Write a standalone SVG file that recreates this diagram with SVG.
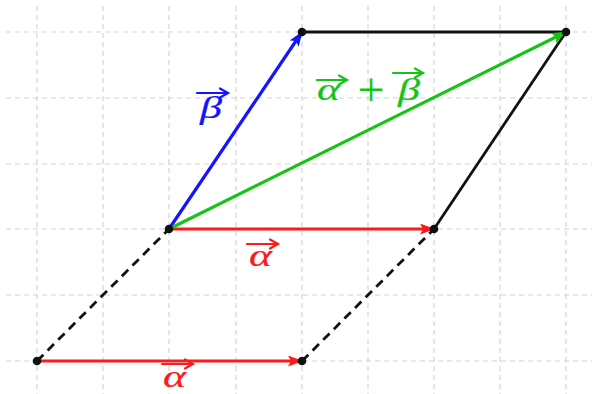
<svg xmlns="http://www.w3.org/2000/svg" width="592" height="394" viewBox="0 0 592 394">
<style>
.grid line{stroke:#d4d4d4;stroke-width:1.2;stroke-dasharray:5 4}
.v{fill:none;stroke-width:3.2}
.red{stroke:#ff1a1a}
.blue{stroke:#1414ff}
.green{stroke:#16c416}
.blk{stroke:#111;stroke-width:2.8;fill:none}
.dash{stroke-dasharray:9 6}
.dot{fill:#111}
.lbl{font-family:"Liberation Serif","DejaVu Serif",serif;font-style:italic;font-size:31px;stroke-width:0.2}
.plus{font-family:"Liberation Serif","DejaVu Serif",serif;font-size:48px}
.ov{fill:none;stroke-width:2.2;stroke-linecap:round}
</style>
<defs>
<marker id="ar-red" viewBox="0 0 15 11" refX="14" refY="5.5" markerWidth="15" markerHeight="11" markerUnits="userSpaceOnUse" orient="auto">
<path d="M0,0 L15,5.5 L0,11 L3,5.5 Z" fill="#ff1a1a"/>
</marker>
<marker id="ar-blue" viewBox="0 0 15 11" refX="14" refY="5.5" markerWidth="15" markerHeight="11" markerUnits="userSpaceOnUse" orient="auto">
<path d="M0,0 L15,5.5 L0,11 L3,5.5 Z" fill="#1414ff"/>
</marker>
<marker id="ar-green" viewBox="0 0 15 11" refX="14" refY="5.5" markerWidth="15" markerHeight="11" markerUnits="userSpaceOnUse" orient="auto">
<path d="M0,0 L15,5.5 L0,11 L3,5.5 Z" fill="#16c416"/>
</marker>
</defs>
<rect width="592" height="394" fill="#fff"/>
<g class="grid">
<line x1="37" y1="6" x2="37" y2="394"/><line x1="103" y1="6" x2="103" y2="394"/><line x1="169" y1="6" x2="169" y2="394"/><line x1="236" y1="6" x2="236" y2="394"/><line x1="302" y1="6" x2="302" y2="394"/><line x1="368" y1="6" x2="368" y2="394"/><line x1="434" y1="6" x2="434" y2="394"/><line x1="500" y1="6" x2="500" y2="394"/><line x1="566" y1="6" x2="566" y2="394"/>
<line x1="6" y1="32" x2="592" y2="32"/><line x1="6" y1="98" x2="592" y2="98"/><line x1="6" y1="164" x2="592" y2="164"/><line x1="6" y1="229" x2="592" y2="229"/><line x1="6" y1="295" x2="592" y2="295"/><line x1="6" y1="361" x2="592" y2="361"/>
</g>
<g id="connectors">
<line class="blk dash" x1="37" y1="361" x2="169" y2="229"/>
<line class="blk dash" x1="302" y1="361" x2="434" y2="229"/>
<line class="blk" x1="302" y1="32" x2="566" y2="32"/>
<line class="blk" x1="434" y1="229" x2="566" y2="32"/>
<line class="v red" x1="37" y1="361" x2="302" y2="361" marker-end="url(#ar-red)"/>
<line class="v red" x1="169" y1="229" x2="434" y2="229" marker-end="url(#ar-red)"/>
<line class="v blue" x1="169" y1="229" x2="302" y2="32" marker-end="url(#ar-blue)"/>
<line class="v green" x1="169" y1="229" x2="566" y2="32" marker-end="url(#ar-green)"/>
</g>
<g id="p-origin"><circle class="dot" cx="37" cy="361" r="4.3"/></g>
<g id="p-alpha-end"><circle class="dot" cx="302" cy="361" r="4.3"/></g>
<g id="p-start"><circle class="dot" cx="169" cy="229" r="4.3"/></g>
<g id="p-alpha2-end"><circle class="dot" cx="434" cy="229" r="4.3"/></g>
<g id="p-beta-end"><circle class="dot" cx="302" cy="32" r="4.3"/></g>
<g id="p-sum-end"><circle class="dot" cx="566" cy="32" r="4.3"/></g>
<g id="label-beta" fill="#1414ff" stroke="#1414ff">
<text class="lbl" x="200" y="118" textLength="22" lengthAdjust="spacingAndGlyphs">β</text>
<path class="ov" d="M197,93 H227 M220,88.5 L228,93 L220,97.5"/>
</g>
<g id="label-sum" fill="#16c416" stroke="#16c416">
<text class="lbl" x="317" y="100" textLength="23" lengthAdjust="spacingAndGlyphs">α</text>
<path class="ov" d="M317,80 H346 M339,75.5 L347,80 L339,84.5"/>
<text class="plus" x="371" y="106" text-anchor="middle" stroke="none">+</text>
<text class="lbl" x="398" y="100" textLength="22" lengthAdjust="spacingAndGlyphs">β</text>
<path class="ov" d="M393,73 H422 M415,68.5 L423,73 L415,77.5"/>
</g>
<g id="label-alpha1" fill="#ff1a1a" stroke="#ff1a1a">
<text class="lbl" x="249" y="266" textLength="23" lengthAdjust="spacingAndGlyphs">α</text>
<path class="ov" d="M247,244 H277 M270,239.5 L278,244 L270,248.5"/>
</g>
<g id="label-alpha2" fill="#ff1a1a" stroke="#ff1a1a">
<text class="lbl" x="163" y="387" textLength="23" lengthAdjust="spacingAndGlyphs">α</text>
<path class="ov" d="M162,364 H192 M185,359.5 L193,364 L185,368.5"/>
</g>
</svg>
